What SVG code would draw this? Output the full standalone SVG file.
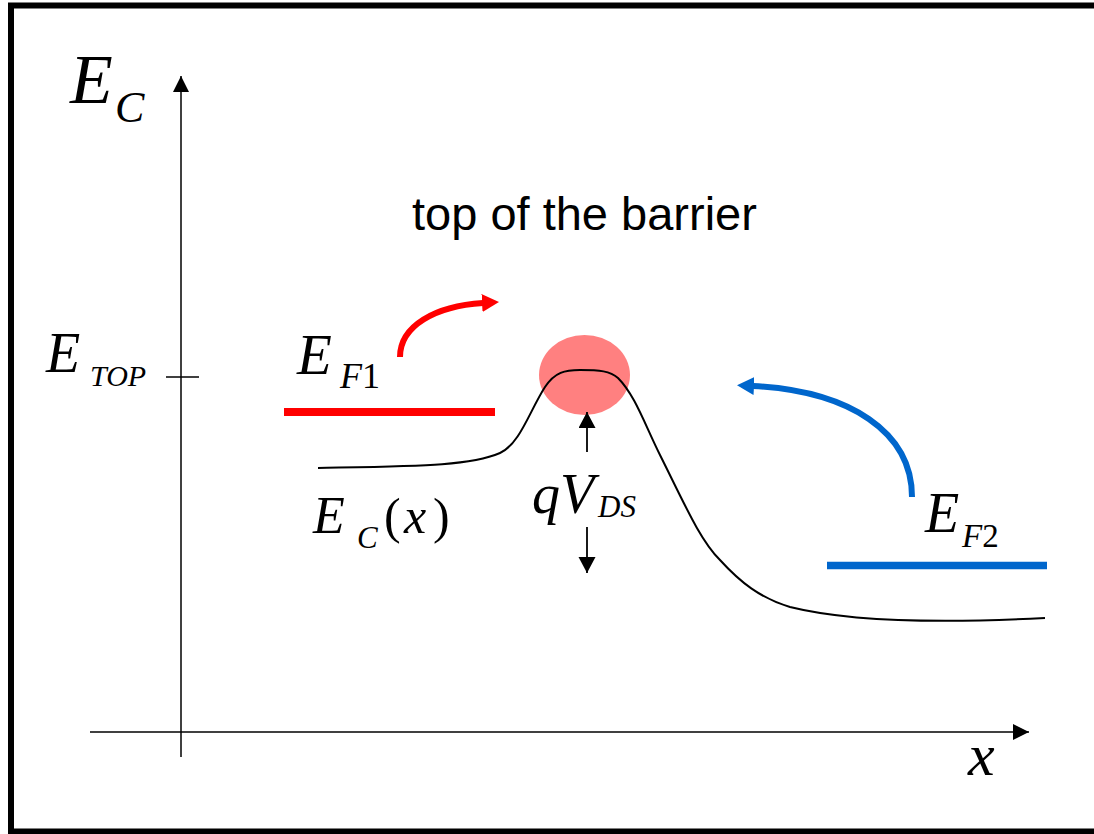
<svg xmlns="http://www.w3.org/2000/svg" width="1094" height="834" viewBox="0 0 1094 834">
<style>
.m{font-family:"Liberation Serif","Times New Roman",serif;font-style:italic;fill:#000}
.u{font-family:"Liberation Serif","Times New Roman",serif;font-style:normal;fill:#000}
.ax{stroke:#000;stroke-width:1.5;fill:none}
</style>
<defs>
<marker id="ah" markerUnits="userSpaceOnUse" markerWidth="18" markerHeight="18" refX="16" refY="8" orient="auto">
<path d="M0,0 L16,8 L0,16 Z" fill="#000"/>
</marker>
<marker id="ahs" markerUnits="userSpaceOnUse" markerWidth="18" markerHeight="18" refX="16" refY="8.5" orient="auto">
<path d="M0,0 L16,8.5 L0,17 Z" fill="#000"/>
</marker>
<marker id="ahr" markerUnits="userSpaceOnUse" markerWidth="20" markerHeight="20" refX="1" refY="9" orient="auto">
<path d="M0,0 L17,9 L0,18 Z" fill="#FF0000"/>
</marker>
<marker id="ahb" markerUnits="userSpaceOnUse" markerWidth="20" markerHeight="20" refX="1" refY="9" orient="auto">
<path d="M0,0 L17,9 L0,18 Z" fill="#0066CC"/>
</marker>
</defs>
<rect x="0" y="0" width="1094" height="834" fill="#fff"/>
<path id="frame" d="M1100,5.5 H11 V831.5 H1100" fill="none" stroke="#000" stroke-width="6"/>

<g id="axes">
<line class="ax" x1="181" y1="757" x2="181" y2="76" marker-end="url(#ah)"/>
<line class="ax" x1="90" y1="732" x2="1029" y2="732" stroke-width="2" marker-end="url(#ah)"/>
<line class="ax" x1="166" y1="377" x2="199" y2="377"/>
</g>

<g id="label-ec-axis"><text class="m" x="70" y="103" font-size="70">E</text><text class="m" x="115" y="122" font-size="44">C</text></g>
<g id="label-etop"><text class="m" x="46" y="372" font-size="56">E</text><text class="m" x="90" y="386" font-size="30">TOP</text></g>
<g id="label-x"><text class="m" x="968" y="775" font-size="60">x</text></g>
<g id="label-barrier"><text x="412" y="230" font-family="'Liberation Sans',Arial,sans-serif" font-size="47" fill="#000">top of the barrier</text></g>

<g id="barrier-top"><ellipse cx="584.5" cy="375" rx="45.5" ry="40" fill="#FF8080"/></g>

<g id="ec-curve"><path d="M318,468 C420,466 470,466 500,453 C520,444 530,410 545,387 C555,372 565,370 580,370 C600,370 610,371 618,378 C635,395 645,425 660,455 C685,505 700,540 720,560 C740,582 760,598 790,607 C850,622 950,623 1045,618" fill="none" stroke="#000" stroke-width="2"/></g>

<g id="ef1">
<line x1="284" y1="412" x2="495" y2="412" stroke="#FF0000" stroke-width="8"/>
<text class="m" x="297" y="374" font-size="57">E</text><text class="m" x="340" y="388" font-size="36">F<tspan class="u">1</tspan></text>
</g>

<g id="ef2">
<line x1="827" y1="565.5" x2="1047" y2="565.5" stroke="#0066CC" stroke-width="7.5"/>
<text class="m" x="925" y="532" font-size="56">E</text><text class="m" x="962" y="547" font-size="33">F<tspan class="u">2</tspan></text>
</g>

<g id="label-ecx">
<text class="m" x="313" y="533" font-size="52">E</text>
<text class="m" x="357" y="548" font-size="31">C</text>
<text class="u" x="384" y="533" font-size="50">(</text>
<text class="m" x="404" y="533" font-size="50">x</text>
<text class="u" x="433" y="533" font-size="50">)</text>
</g>

<g id="label-qvds">
<text class="m" x="532" y="513" font-size="56">qV</text>
<text class="m" x="598" y="517" font-size="31">DS</text>
</g>

<g id="connectors">
<line x1="587" y1="452" x2="587" y2="412" stroke="#000" stroke-width="1.8" marker-end="url(#ahs)"/>
<line x1="587" y1="527" x2="587" y2="573" stroke="#000" stroke-width="1.8" marker-end="url(#ahs)"/>
<path d="M400,357 C400,326 435,306 483,303" fill="none" stroke="#FF0000" stroke-width="6" marker-end="url(#ahr)"/>
<path d="M912,497 C912,432 850,391 753,386" fill="none" stroke="#0066CC" stroke-width="6" marker-end="url(#ahb)"/>
</g>
</svg>
